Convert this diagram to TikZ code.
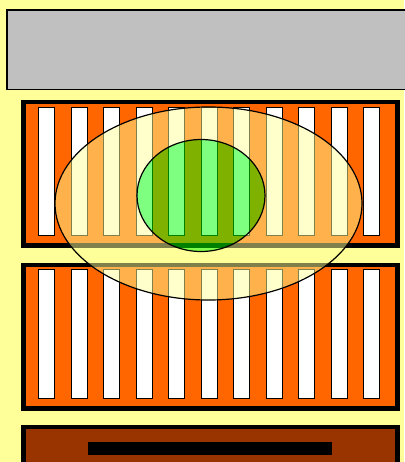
\documentclass[tikz,border=0pt]{standalone}
\definecolor{bgyellow}{HTML}{FFFF99}
\definecolor{panelgray}{HTML}{C0C0C0}
\definecolor{ribbed}{HTML}{FF6600}
\definecolor{brownbase}{HTML}{993300}
\definecolor{lensgreen}{HTML}{00FF00}
\tikzset{
  panel/.style={draw=black, line width=4.5pt, fill=ribbed},
  slot/.style={draw=black, line width=1pt, fill=white},
  ring/.style={draw=black, line width=1.2pt},
}
\begin{document}
\begin{tikzpicture}[x=1pt,y=-1pt]
\useasboundingbox (0,0) rectangle (404,462);
\fill[bgyellow] (0,0) rectangle (404,462);
% gray top panel
\draw[fill=panelgray, line width=1.5pt] (6.75,10.25) rectangle (410,89.5);
% upper ribbed panel
\draw[panel] (23.25,102) rectangle (397.5,245.5);
\foreach \i in {0,...,10}{
  \draw[slot] ({38.8+32.5*\i},107.2) rectangle ({54.5+32.5*\i},235.5);
}
% lower ribbed panel
\draw[panel] (23.25,265) rectangle (397.5,408.5);
\foreach \i in {0,...,10}{
  \draw[slot] ({38.8+32.5*\i},269.8) rectangle ({54.5+32.5*\i},398.2);
}
% brown base
\draw[line width=4.5pt, fill=brownbase] (23.25,427) rectangle (397.5,470);
\fill[black] (88,442) rectangle (332,455.3);
% translucent ellipses
\fill[bgyellow, fill opacity=0.5, even odd rule]
  (208.5,203.5) ellipse [x radius=153.5pt, y radius=96.5pt]
  (201,195.5) ellipse [x radius=64pt, y radius=56pt];
\fill[lensgreen, fill opacity=0.5] (201,195.5) ellipse [x radius=64pt, y radius=56pt];
\draw[ring] (208.5,203.5) ellipse [x radius=153.5pt, y radius=96.5pt];
\draw[ring] (201,195.5) ellipse [x radius=64pt, y radius=56pt];
\end{tikzpicture}
\end{document}
